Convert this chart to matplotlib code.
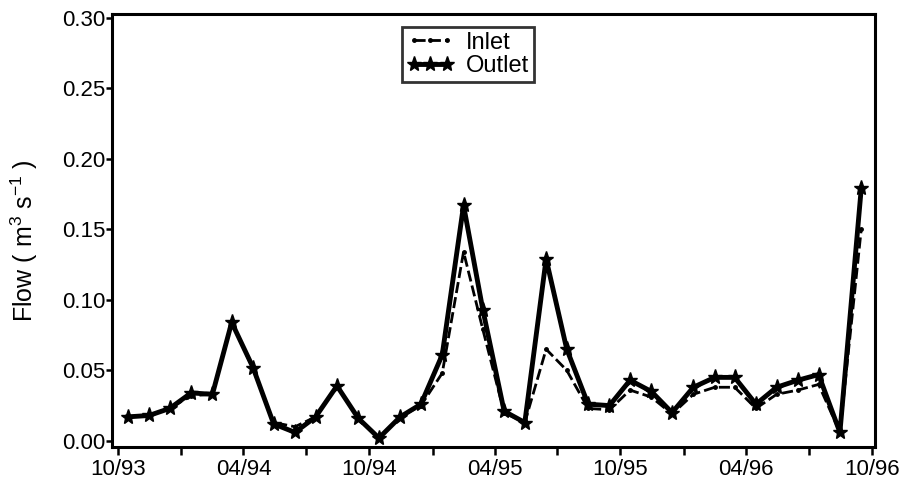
import matplotlib
matplotlib.use("Agg")
import matplotlib.pyplot as plt
import matplotlib.dates as mdates
import numpy as np
import pandas as pd

plt.rcParams['font.family'] = ['Liberation Sans', 'DejaVu Sans']
plt.rcParams['mathtext.default'] = 'regular'

# monthly flow, mid-month, Oct 1993 .. Sep 1996
dates = pd.date_range('1993-10-01', periods=36, freq='MS') + pd.Timedelta(days=14)

inlet = [0.017, 0.018, 0.023, 0.032, 0.033, 0.084, 0.051, 0.013, 0.010, 0.017,
         0.039, 0.016, 0.002, 0.017, 0.025, 0.048, 0.134, 0.079, 0.020, 0.013,
         0.065, 0.050, 0.023, 0.022, 0.036, 0.031, 0.019, 0.033, 0.038, 0.038,
         0.023, 0.033, 0.036, 0.040, 0.006, 0.150]
outlet = [0.017, 0.018, 0.023, 0.034, 0.033, 0.084, 0.052, 0.012, 0.006, 0.017,
          0.039, 0.016, 0.002, 0.017, 0.026, 0.061, 0.167, 0.093, 0.021, 0.013,
          0.129, 0.065, 0.026, 0.025, 0.043, 0.035, 0.020, 0.038, 0.045, 0.045,
          0.026, 0.038, 0.043, 0.047, 0.006, 0.179]

fig = plt.figure(figsize=(9.03, 4.79), dpi=100)
ax = fig.add_axes([0.124, 0.067, 0.845, 0.904])

ax.plot(dates, inlet, color='black', linestyle=(0, (4, 1.5)), linewidth=2,
        marker='o', markersize=2.5, label='Inlet')
ax.plot(dates, outlet, color='black', linestyle='-', linewidth=3.5,
        marker='*', markersize=11, label='Outlet')

ax.set_xlim(pd.Timestamp('1993-09-22'), pd.Timestamp('1996-10-05'))
ax.set_ylim(-0.0043, 0.3028)
ax.set_yticks(np.arange(0, 0.31, 0.05))
ax.yaxis.set_major_formatter(matplotlib.ticker.FormatStrFormatter('%.2f'))

ax.xaxis.set_major_locator(mdates.MonthLocator(bymonth=[4, 10]))
ax.xaxis.set_minor_locator(mdates.MonthLocator(bymonth=[1, 7]))
ax.xaxis.set_major_formatter(mdates.DateFormatter('%m/%y'))

ax.tick_params(axis='both', which='both', direction='out', width=1.8, labelsize=16)
ax.tick_params(axis='x', which='major', length=6, pad=3)
ax.tick_params(axis='x', which='minor', length=6)
ax.tick_params(axis='y', length=4, pad=1)

for s in ax.spines.values():
    s.set_linewidth(2.2)

ax.set_ylabel('Flow ( m$^{3}$ s$^{-1}$ )', fontsize=18)
ax.yaxis.set_label_coords(-0.094, 0.476)

leg = ax.legend(loc='upper left', bbox_to_anchor=(0.380, 0.970), borderaxespad=0,
                fontsize=17, numpoints=3, handlelength=2.0, handletextpad=0.5,
                frameon=True, fancybox=False, edgecolor='black', borderpad=0.2,
                labelspacing=0.05)
leg.get_frame().set_linewidth(2)

plt.savefig('out.png', dpi=100)
